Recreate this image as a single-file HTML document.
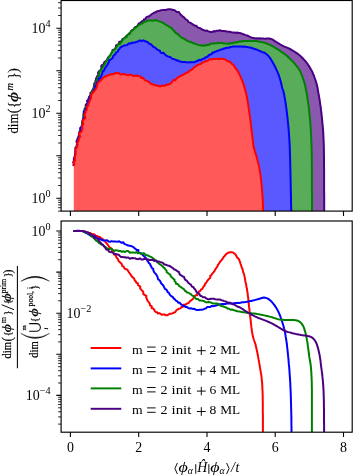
<!DOCTYPE html>
<html><head><meta charset="utf-8"><title>chart</title>
<style>html,body{margin:0;padding:0;background:#fff}svg{display:block}text{font-family:"Liberation Serif",serif;fill:#000;stroke:none}.b text{stroke:#000;stroke-width:0.18px}</style></head><body>
<svg width="353" height="476" viewBox="0 0 353 476">
<rect width="353" height="476" fill="#fff"/>
<defs><clipPath id="c1"><rect x="61.1" y="0.5" width="291.1" height="210.6"/></clipPath><clipPath id="c2"><rect x="61.1" y="221.0" width="291.1" height="211.2"/></clipPath></defs>
<g clip-path="url(#c1)" stroke-linejoin="round">
<polygon points="76.0,211.0 76.0,170.0 73.5,166.0 73.5,165.1 73.9,163.8 73.8,162.3 73.9,160.6 73.8,158.9 74.3,157.5 75.0,156.3 74.9,154.6 75.4,153.3 75.3,152.0 75.7,150.5 75.8,149.3 75.3,147.7 76.6,146.5 76.8,145.0 77.1,143.5 76.5,141.8 76.8,140.4 77.5,139.0 78.0,137.6 78.7,136.2 78.9,134.8 79.4,133.6 79.3,132.0 80.1,130.7 80.5,129.4 80.4,128.1 81.7,127.2 81.7,125.5 82.4,124.3 82.0,122.4 82.3,121.2 82.7,119.8 83.0,118.3 83.6,116.9 83.7,115.4 83.6,114.1 83.6,112.8 84.0,111.6 85.0,110.5 84.5,108.9 85.3,107.8 85.8,106.5 85.6,104.9 86.7,103.8 87.7,102.7 86.9,100.9 88.1,99.7 88.7,98.4 89.0,97.0 90.1,95.8 90.5,94.2 90.4,92.8 91.8,91.8 92.3,90.4 93.0,89.1 93.7,87.8 93.9,86.3 94.2,85.0 94.2,83.5 95.4,82.4 95.4,81.0 95.9,79.8 96.0,78.5 96.6,77.4 97.3,76.0 98.6,74.8 97.9,72.9 98.7,71.6 100.0,70.4 101.0,69.5 101.4,68.2 101.2,66.4 101.7,65.1 103.5,64.6 103.8,63.1 104.5,61.9 106.0,61.2 106.9,60.0 107.5,58.6 108.3,57.4 109.2,56.3 110.4,55.4 110.9,54.0 111.7,52.8 112.5,51.6 112.6,50.0 114.4,49.5 115.2,48.3 115.9,47.1 116.1,45.4 117.5,44.6 118.9,43.9 119.2,42.0 120.6,41.5 122.0,40.8 122.4,39.1 124.3,38.9 125.1,37.6 126.0,36.4 127.2,35.5 128.3,34.6 129.2,33.4 130.5,32.6 131.0,31.1 132.1,30.2 133.5,29.5 134.2,28.3 135.0,27.1 136.4,26.7 137.6,25.9 138.1,24.5 138.9,23.4 140.2,22.8 141.2,22.0 142.1,21.1 143.5,20.7 144.0,19.2 145.5,19.0 146.0,17.5 147.1,16.8 148.4,16.5 149.7,15.8 150.8,14.9 151.9,14.0 153.1,13.3 154.2,12.6 155.5,12.2 156.8,11.4 158.2,11.0 159.7,10.7 161.1,10.2 162.5,10.1 164.0,9.9 165.7,10.1 167.2,9.5 168.7,9.3 170.0,9.3 171.6,9.5 172.8,10.0 174.2,10.1 175.5,10.9 176.7,12.1 178.9,12.1 179.7,13.3 180.6,14.5 181.7,15.6 182.9,16.7 184.3,17.6 185.2,18.8 186.4,19.7 187.7,20.5 188.4,22.1 190.0,22.6 191.3,23.3 192.4,24.2 193.6,24.9 194.8,25.7 196.3,25.7 197.2,26.9 198.2,27.8 199.9,28.0 201.2,28.9 202.6,29.7 204.0,30.2 205.3,30.8 207.0,30.6 208.3,31.4 209.6,31.7 211.0,32.0 212.5,32.1 213.9,31.0 215.5,31.5 216.6,30.7 218.3,30.8 220.0,30.3 221.2,30.7 222.5,31.1 224.1,31.0 225.6,31.3 227.1,31.6 228.5,31.7 229.9,31.8 231.3,32.3 232.8,32.4 234.2,32.4 235.6,33.0 237.0,32.5 238.4,33.0 239.8,33.0 241.2,33.4 242.6,34.0 244.2,34.5 245.6,35.1 247.1,35.5 248.4,36.0 249.8,37.0 251.1,37.4 252.6,37.9 253.9,38.0 255.3,38.4 256.9,38.3 258.3,38.4 259.7,38.2 261.1,38.4 262.4,38.4 263.7,38.6 265.0,38.7 266.5,38.6 268.0,38.6 269.5,38.6 271.0,38.9 272.2,39.4 273.4,40.1 274.5,40.9 275.7,41.7 276.9,42.4 278.1,43.1 279.3,43.8 280.4,44.5 281.6,45.2 282.8,45.8 284.0,46.4 285.2,46.9 286.4,47.3 287.6,47.8 288.8,48.4 290.0,49.0 291.2,49.6 292.3,50.3 293.5,51.0 294.7,51.8 295.9,52.6 297.1,53.4 298.3,54.3 299.5,55.3 300.7,56.3 301.7,57.2 302.7,58.2 303.7,59.3 304.7,60.4 305.7,61.5 306.6,62.7 307.4,63.7 308.1,64.8 308.9,65.9 309.6,67.0 310.3,68.2 310.9,69.4 311.6,70.6 312.2,71.7 312.7,72.9 313.2,74.2 313.8,75.4 314.3,76.7 314.7,78.0 315.2,79.3 315.6,80.5 316.0,81.8 316.4,83.1 316.7,84.3 317.0,85.5 317.3,86.8 317.6,88.3 317.9,90.0 318.1,91.1 318.3,92.3 318.5,93.5 318.8,94.8 319.0,96.2 319.2,97.6 319.5,99.0 319.7,100.4 319.9,101.8 320.1,103.2 320.3,104.6 320.5,105.9 320.7,107.2 320.9,108.5 321.0,109.9 321.2,111.2 321.3,112.5 321.5,113.8 321.6,115.1 321.8,116.4 321.9,117.7 322.0,119.1 322.2,120.4 322.3,121.7 322.4,123.0 322.5,124.3 322.7,125.5 322.8,126.8 322.9,128.0 323.0,129.2 323.1,130.5 323.2,131.8 323.3,133.2 323.3,134.6 323.4,136.0 323.5,137.6 323.5,138.7 323.6,139.8 323.6,140.8 323.7,141.8 323.7,142.8 323.7,143.9 323.8,144.9 323.8,146.0 323.8,147.2 323.9,148.4 323.9,149.7 323.9,151.1 323.9,152.6 323.9,154.3 324.0,156.0 324.0,157.9 324.0,160.0 324.0,161.0 324.0,162.0 324.0,163.1 324.0,164.3 324.0,165.5 324.0,166.8 324.1,168.1 324.1,169.5 324.1,170.9 324.1,172.3 324.1,173.8 324.1,175.3 324.1,176.8 324.1,178.3 324.1,179.9 324.1,181.4 324.1,183.0 324.1,184.5 324.1,186.1 324.1,187.7 324.1,189.2 324.1,190.8 324.1,192.3 324.2,193.8 324.2,195.3 324.2,196.7 324.2,198.1 324.2,199.5 324.2,200.8 324.2,202.1 324.2,203.4 324.2,204.5 324.2,205.7 324.2,206.7 324.2,207.7 324.2,208.7 324.2,209.5 324.2,210.3 324.2,211.0" fill="#8a59ae" stroke="none"/>
<polyline points="73.5,166.0 73.5,165.1 73.9,163.8 73.8,162.3 73.9,160.6 73.8,158.9 74.3,157.5 75.0,156.3 74.9,154.6 75.4,153.3 75.3,152.0 75.7,150.5 75.8,149.3 75.3,147.7 76.6,146.5 76.8,145.0 77.1,143.5 76.5,141.8 76.8,140.4 77.5,139.0 78.0,137.6 78.7,136.2 78.9,134.8 79.4,133.6 79.3,132.0 80.1,130.7 80.5,129.4 80.4,128.1 81.7,127.2 81.7,125.5 82.4,124.3 82.0,122.4 82.3,121.2 82.7,119.8 83.0,118.3 83.6,116.9 83.7,115.4 83.6,114.1 83.6,112.8 84.0,111.6 85.0,110.5 84.5,108.9 85.3,107.8 85.8,106.5 85.6,104.9 86.7,103.8 87.7,102.7 86.9,100.9 88.1,99.7 88.7,98.4 89.0,97.0 90.1,95.8 90.5,94.2 90.4,92.8 91.8,91.8 92.3,90.4 93.0,89.1 93.7,87.8 93.9,86.3 94.2,85.0 94.2,83.5 95.4,82.4 95.4,81.0 95.9,79.8 96.0,78.5 96.6,77.4 97.3,76.0 98.6,74.8 97.9,72.9 98.7,71.6 100.0,70.4 101.0,69.5 101.4,68.2 101.2,66.4 101.7,65.1 103.5,64.6 103.8,63.1 104.5,61.9 106.0,61.2 106.9,60.0 107.5,58.6 108.3,57.4 109.2,56.3 110.4,55.4 110.9,54.0 111.7,52.8 112.5,51.6 112.6,50.0 114.4,49.5 115.2,48.3 115.9,47.1 116.1,45.4 117.5,44.6 118.9,43.9 119.2,42.0 120.6,41.5 122.0,40.8 122.4,39.1 124.3,38.9 125.1,37.6 126.0,36.4 127.2,35.5 128.3,34.6 129.2,33.4 130.5,32.6 131.0,31.1 132.1,30.2 133.5,29.5 134.2,28.3 135.0,27.1 136.4,26.7 137.6,25.9 138.1,24.5 138.9,23.4 140.2,22.8 141.2,22.0 142.1,21.1 143.5,20.7 144.0,19.2 145.5,19.0 146.0,17.5 147.1,16.8 148.4,16.5 149.7,15.8 150.8,14.9 151.9,14.0 153.1,13.3 154.2,12.6 155.5,12.2 156.8,11.4 158.2,11.0 159.7,10.7 161.1,10.2 162.5,10.1 164.0,9.9 165.7,10.1 167.2,9.5 168.7,9.3 170.0,9.3 171.6,9.5 172.8,10.0 174.2,10.1 175.5,10.9 176.7,12.1 178.9,12.1 179.7,13.3 180.6,14.5 181.7,15.6 182.9,16.7 184.3,17.6 185.2,18.8 186.4,19.7 187.7,20.5 188.4,22.1 190.0,22.6 191.3,23.3 192.4,24.2 193.6,24.9 194.8,25.7 196.3,25.7 197.2,26.9 198.2,27.8 199.9,28.0 201.2,28.9 202.6,29.7 204.0,30.2 205.3,30.8 207.0,30.6 208.3,31.4 209.6,31.7 211.0,32.0 212.5,32.1 213.9,31.0 215.5,31.5 216.6,30.7 218.3,30.8 220.0,30.3 221.2,30.7 222.5,31.1 224.1,31.0 225.6,31.3 227.1,31.6 228.5,31.7 229.9,31.8 231.3,32.3 232.8,32.4 234.2,32.4 235.6,33.0 237.0,32.5 238.4,33.0 239.8,33.0 241.2,33.4 242.6,34.0 244.2,34.5 245.6,35.1 247.1,35.5 248.4,36.0 249.8,37.0 251.1,37.4 252.6,37.9 253.9,38.0 255.3,38.4 256.9,38.3 258.3,38.4 259.7,38.2 261.1,38.4 262.4,38.4 263.7,38.6 265.0,38.7 266.5,38.6 268.0,38.6 269.5,38.6 271.0,38.9 272.2,39.4 273.4,40.1 274.5,40.9 275.7,41.7 276.9,42.4 278.1,43.1 279.3,43.8 280.4,44.5 281.6,45.2 282.8,45.8 284.0,46.4 285.2,46.9 286.4,47.3 287.6,47.8 288.8,48.4 290.0,49.0 291.2,49.6 292.3,50.3 293.5,51.0 294.7,51.8 295.9,52.6 297.1,53.4 298.3,54.3 299.5,55.3 300.7,56.3 301.7,57.2 302.7,58.2 303.7,59.3 304.7,60.4 305.7,61.5 306.6,62.7 307.4,63.7 308.1,64.8 308.9,65.9 309.6,67.0 310.3,68.2 310.9,69.4 311.6,70.6 312.2,71.7 312.7,72.9 313.2,74.2 313.8,75.4 314.3,76.7 314.7,78.0 315.2,79.3 315.6,80.5 316.0,81.8 316.4,83.1 316.7,84.3 317.0,85.5 317.3,86.8 317.6,88.3 317.9,90.0 318.1,91.1 318.3,92.3 318.5,93.5 318.8,94.8 319.0,96.2 319.2,97.6 319.5,99.0 319.7,100.4 319.9,101.8 320.1,103.2 320.3,104.6 320.5,105.9 320.7,107.2 320.9,108.5 321.0,109.9 321.2,111.2 321.3,112.5 321.5,113.8 321.6,115.1 321.8,116.4 321.9,117.7 322.0,119.1 322.2,120.4 322.3,121.7 322.4,123.0 322.5,124.3 322.7,125.5 322.8,126.8 322.9,128.0 323.0,129.2 323.1,130.5 323.2,131.8 323.3,133.2 323.3,134.6 323.4,136.0 323.5,137.6 323.5,138.7 323.6,139.8 323.6,140.8 323.7,141.8 323.7,142.8 323.7,143.9 323.8,144.9 323.8,146.0 323.8,147.2 323.9,148.4 323.9,149.7 323.9,151.1 323.9,152.6 323.9,154.3 324.0,156.0 324.0,157.9 324.0,160.0 324.0,161.0 324.0,162.0 324.0,163.1 324.0,164.3 324.0,165.5 324.0,166.8 324.1,168.1 324.1,169.5 324.1,170.9 324.1,172.3 324.1,173.8 324.1,175.3 324.1,176.8 324.1,178.3 324.1,179.9 324.1,181.4 324.1,183.0 324.1,184.5 324.1,186.1 324.1,187.7 324.1,189.2 324.1,190.8 324.1,192.3 324.2,193.8 324.2,195.3 324.2,196.7 324.2,198.1 324.2,199.5 324.2,200.8 324.2,202.1 324.2,203.4 324.2,204.5 324.2,205.7 324.2,206.7 324.2,207.7 324.2,208.7 324.2,209.5 324.2,210.3 324.2,211.0" fill="none" stroke="#4b0082" stroke-width="2"/>
<polygon points="76.0,211.0 76.0,170.0 74.2,166.0 73.9,165.0 74.5,163.8 73.7,162.2 74.4,160.6 74.9,159.0 75.3,157.5 74.9,156.2 75.4,154.5 75.8,153.3 76.1,152.1 76.5,150.6 76.5,149.3 76.6,147.8 77.3,146.5 77.3,144.9 77.3,143.4 77.6,141.9 78.2,140.6 78.5,139.1 79.0,137.6 79.2,136.2 79.6,134.8 79.8,133.5 79.8,131.9 80.8,130.7 81.5,129.5 81.6,128.2 81.6,127.0 82.3,125.5 82.2,124.0 82.2,122.3 83.3,121.2 83.1,119.7 84.1,118.4 83.6,116.7 83.2,115.2 84.1,114.0 85.4,113.0 84.7,111.6 84.6,110.2 85.2,108.9 86.1,107.8 86.5,106.5 86.9,105.2 88.0,104.0 88.2,102.6 88.4,101.2 89.2,99.9 90.1,98.7 90.4,97.3 91.0,95.9 90.8,94.0 91.6,93.0 92.5,91.8 92.7,90.3 93.7,89.1 94.1,87.7 94.8,86.4 94.8,85.0 96.4,84.0 96.4,82.5 96.3,81.1 96.8,79.9 98.3,79.1 97.6,77.4 98.6,76.2 99.2,74.8 99.3,73.2 99.5,71.6 100.7,70.4 101.3,69.3 102.3,68.3 102.8,67.0 103.3,65.7 104.3,64.7 105.0,63.4 105.7,62.2 106.4,60.9 107.2,59.7 108.3,58.7 108.6,57.1 109.6,56.1 110.6,55.0 110.9,53.5 112.1,52.6 112.4,51.0 113.6,50.2 114.9,49.3 115.8,48.2 116.5,46.9 117.3,45.8 117.9,44.4 119.9,44.1 120.5,42.6 121.7,41.8 122.2,40.2 123.4,39.4 124.1,37.9 125.9,37.6 127.0,36.6 127.3,34.9 128.8,34.4 130.1,33.6 130.6,31.9 131.6,30.9 132.8,30.2 133.8,29.4 134.4,28.4 136.3,27.3 137.4,26.2 138.5,25.4 139.7,24.4 141.4,23.9 142.5,23.3 143.7,22.0 145.4,21.7 146.8,21.0 148.2,20.6 150.2,20.6 151.8,20.5 153.3,20.7 155.2,20.0 157.1,20.4 158.2,21.1 159.5,21.4 161.0,21.9 162.5,22.7 163.8,23.1 164.8,24.2 166.1,25.0 167.5,25.7 168.9,26.5 170.0,27.6 171.6,27.8 172.3,29.1 173.1,30.3 174.4,31.0 175.0,32.3 176.1,33.2 177.4,33.7 178.3,34.9 179.5,35.8 180.6,36.8 181.7,37.6 183.0,38.3 184.3,38.8 185.4,39.6 186.5,40.3 187.6,41.1 188.8,41.5 190.1,41.8 191.3,42.2 192.7,43.0 194.2,43.5 195.7,43.9 197.1,44.6 198.3,44.9 199.9,45.3 201.3,45.5 202.6,45.3 204.0,45.9 205.3,45.1 206.8,45.3 208.1,44.8 209.6,44.7 210.9,43.6 212.5,43.6 214.1,43.5 215.8,43.2 217.5,43.3 218.8,42.7 220.4,42.9 222.0,43.1 223.6,43.4 225.4,43.5 227.1,43.5 228.9,43.7 230.6,43.3 232.2,43.3 234.2,42.4 235.4,42.4 236.8,42.4 238.2,41.8 239.7,41.6 241.2,41.6 242.6,41.3 244.0,41.0 245.5,41.1 246.9,41.0 248.3,41.0 249.7,40.7 251.1,41.0 252.6,41.0 254.0,40.8 255.4,40.9 256.9,41.1 258.4,41.5 260.0,41.7 261.4,42.1 262.5,42.3 265.0,42.8 266.0,43.2 267.1,43.7 268.4,44.2 269.8,44.8 271.0,45.4 272.2,46.0 273.4,46.7 274.5,47.4 275.7,48.1 276.9,48.8 278.1,49.5 279.3,50.3 280.4,51.1 281.6,51.9 282.8,52.8 284.0,53.7 285.2,54.6 286.4,55.6 287.6,56.6 288.8,57.7 289.8,58.6 290.8,59.6 291.8,60.6 292.8,61.6 293.8,62.6 294.7,63.7 295.6,64.8 296.5,65.8 297.3,66.9 298.1,68.0 298.9,69.3 299.7,70.6 300.3,71.7 300.8,72.9 301.3,74.1 301.9,75.4 302.4,76.7 302.8,78.0 303.3,79.3 303.7,80.5 304.1,81.8 304.5,83.1 304.8,84.3 305.1,85.5 305.4,86.8 305.7,88.3 306.0,90.0 306.2,91.1 306.4,92.3 306.7,93.5 306.9,94.8 307.1,96.2 307.3,97.6 307.6,99.0 307.8,100.4 308.0,101.8 308.2,103.2 308.4,104.6 308.6,105.9 308.8,107.2 308.9,108.5 309.1,109.9 309.2,111.2 309.4,112.5 309.5,113.8 309.6,115.1 309.7,116.4 309.9,117.7 310.0,119.1 310.1,120.4 310.2,121.7 310.3,123.0 310.4,124.3 310.5,125.5 310.6,126.8 310.7,128.0 310.8,129.2 310.8,130.5 310.9,131.8 311.0,133.2 311.1,134.6 311.1,136.0 311.2,137.6 311.2,138.7 311.3,139.8 311.3,140.8 311.4,141.8 311.4,142.8 311.5,143.9 311.5,144.9 311.5,146.0 311.6,147.2 311.6,148.4 311.6,149.7 311.7,151.1 311.7,152.6 311.7,154.3 311.8,156.0 311.8,157.9 311.8,160.0 311.8,161.0 311.8,162.0 311.8,163.1 311.8,164.3 311.8,165.5 311.9,166.8 311.9,168.1 311.9,169.5 311.9,170.9 311.9,172.3 311.9,173.8 311.9,175.3 311.9,176.8 311.9,178.3 311.9,179.9 311.9,181.4 311.9,183.0 311.9,184.5 311.9,186.1 311.9,187.7 311.9,189.2 311.9,190.8 312.0,192.3 312.0,193.8 312.0,195.3 312.0,196.7 312.0,198.1 312.0,199.5 312.0,200.8 312.0,202.1 312.0,203.4 312.0,204.5 312.0,205.7 312.0,206.7 312.0,207.7 312.0,208.7 312.0,209.5 312.0,210.3 312.0,211.0" fill="#59ac59" stroke="none"/>
<polyline points="74.2,166.0 73.9,165.0 74.5,163.8 73.7,162.2 74.4,160.6 74.9,159.0 75.3,157.5 74.9,156.2 75.4,154.5 75.8,153.3 76.1,152.1 76.5,150.6 76.5,149.3 76.6,147.8 77.3,146.5 77.3,144.9 77.3,143.4 77.6,141.9 78.2,140.6 78.5,139.1 79.0,137.6 79.2,136.2 79.6,134.8 79.8,133.5 79.8,131.9 80.8,130.7 81.5,129.5 81.6,128.2 81.6,127.0 82.3,125.5 82.2,124.0 82.2,122.3 83.3,121.2 83.1,119.7 84.1,118.4 83.6,116.7 83.2,115.2 84.1,114.0 85.4,113.0 84.7,111.6 84.6,110.2 85.2,108.9 86.1,107.8 86.5,106.5 86.9,105.2 88.0,104.0 88.2,102.6 88.4,101.2 89.2,99.9 90.1,98.7 90.4,97.3 91.0,95.9 90.8,94.0 91.6,93.0 92.5,91.8 92.7,90.3 93.7,89.1 94.1,87.7 94.8,86.4 94.8,85.0 96.4,84.0 96.4,82.5 96.3,81.1 96.8,79.9 98.3,79.1 97.6,77.4 98.6,76.2 99.2,74.8 99.3,73.2 99.5,71.6 100.7,70.4 101.3,69.3 102.3,68.3 102.8,67.0 103.3,65.7 104.3,64.7 105.0,63.4 105.7,62.2 106.4,60.9 107.2,59.7 108.3,58.7 108.6,57.1 109.6,56.1 110.6,55.0 110.9,53.5 112.1,52.6 112.4,51.0 113.6,50.2 114.9,49.3 115.8,48.2 116.5,46.9 117.3,45.8 117.9,44.4 119.9,44.1 120.5,42.6 121.7,41.8 122.2,40.2 123.4,39.4 124.1,37.9 125.9,37.6 127.0,36.6 127.3,34.9 128.8,34.4 130.1,33.6 130.6,31.9 131.6,30.9 132.8,30.2 133.8,29.4 134.4,28.4 136.3,27.3 137.4,26.2 138.5,25.4 139.7,24.4 141.4,23.9 142.5,23.3 143.7,22.0 145.4,21.7 146.8,21.0 148.2,20.6 150.2,20.6 151.8,20.5 153.3,20.7 155.2,20.0 157.1,20.4 158.2,21.1 159.5,21.4 161.0,21.9 162.5,22.7 163.8,23.1 164.8,24.2 166.1,25.0 167.5,25.7 168.9,26.5 170.0,27.6 171.6,27.8 172.3,29.1 173.1,30.3 174.4,31.0 175.0,32.3 176.1,33.2 177.4,33.7 178.3,34.9 179.5,35.8 180.6,36.8 181.7,37.6 183.0,38.3 184.3,38.8 185.4,39.6 186.5,40.3 187.6,41.1 188.8,41.5 190.1,41.8 191.3,42.2 192.7,43.0 194.2,43.5 195.7,43.9 197.1,44.6 198.3,44.9 199.9,45.3 201.3,45.5 202.6,45.3 204.0,45.9 205.3,45.1 206.8,45.3 208.1,44.8 209.6,44.7 210.9,43.6 212.5,43.6 214.1,43.5 215.8,43.2 217.5,43.3 218.8,42.7 220.4,42.9 222.0,43.1 223.6,43.4 225.4,43.5 227.1,43.5 228.9,43.7 230.6,43.3 232.2,43.3 234.2,42.4 235.4,42.4 236.8,42.4 238.2,41.8 239.7,41.6 241.2,41.6 242.6,41.3 244.0,41.0 245.5,41.1 246.9,41.0 248.3,41.0 249.7,40.7 251.1,41.0 252.6,41.0 254.0,40.8 255.4,40.9 256.9,41.1 258.4,41.5 260.0,41.7 261.4,42.1 262.5,42.3 265.0,42.8 266.0,43.2 267.1,43.7 268.4,44.2 269.8,44.8 271.0,45.4 272.2,46.0 273.4,46.7 274.5,47.4 275.7,48.1 276.9,48.8 278.1,49.5 279.3,50.3 280.4,51.1 281.6,51.9 282.8,52.8 284.0,53.7 285.2,54.6 286.4,55.6 287.6,56.6 288.8,57.7 289.8,58.6 290.8,59.6 291.8,60.6 292.8,61.6 293.8,62.6 294.7,63.7 295.6,64.8 296.5,65.8 297.3,66.9 298.1,68.0 298.9,69.3 299.7,70.6 300.3,71.7 300.8,72.9 301.3,74.1 301.9,75.4 302.4,76.7 302.8,78.0 303.3,79.3 303.7,80.5 304.1,81.8 304.5,83.1 304.8,84.3 305.1,85.5 305.4,86.8 305.7,88.3 306.0,90.0 306.2,91.1 306.4,92.3 306.7,93.5 306.9,94.8 307.1,96.2 307.3,97.6 307.6,99.0 307.8,100.4 308.0,101.8 308.2,103.2 308.4,104.6 308.6,105.9 308.8,107.2 308.9,108.5 309.1,109.9 309.2,111.2 309.4,112.5 309.5,113.8 309.6,115.1 309.7,116.4 309.9,117.7 310.0,119.1 310.1,120.4 310.2,121.7 310.3,123.0 310.4,124.3 310.5,125.5 310.6,126.8 310.7,128.0 310.8,129.2 310.8,130.5 310.9,131.8 311.0,133.2 311.1,134.6 311.1,136.0 311.2,137.6 311.2,138.7 311.3,139.8 311.3,140.8 311.4,141.8 311.4,142.8 311.5,143.9 311.5,144.9 311.5,146.0 311.6,147.2 311.6,148.4 311.6,149.7 311.7,151.1 311.7,152.6 311.7,154.3 311.8,156.0 311.8,157.9 311.8,160.0 311.8,161.0 311.8,162.0 311.8,163.1 311.8,164.3 311.8,165.5 311.9,166.8 311.9,168.1 311.9,169.5 311.9,170.9 311.9,172.3 311.9,173.8 311.9,175.3 311.9,176.8 311.9,178.3 311.9,179.9 311.9,181.4 311.9,183.0 311.9,184.5 311.9,186.1 311.9,187.7 311.9,189.2 311.9,190.8 312.0,192.3 312.0,193.8 312.0,195.3 312.0,196.7 312.0,198.1 312.0,199.5 312.0,200.8 312.0,202.1 312.0,203.4 312.0,204.5 312.0,205.7 312.0,206.7 312.0,207.7 312.0,208.7 312.0,209.5 312.0,210.3 312.0,211.0" fill="none" stroke="#008000" stroke-width="2"/>
<polygon points="76.0,211.0 76.0,170.0 74.0,166.0 74.2,165.1 73.7,163.7 73.5,162.2 74.5,160.6 74.8,159.0 74.6,157.4 75.4,156.2 75.1,154.5 75.2,153.2 75.9,152.1 75.4,150.4 76.0,149.2 76.5,147.9 77.1,146.5 77.0,144.9 77.5,143.5 77.4,141.9 78.1,140.6 79.0,139.2 78.4,137.6 80.0,136.4 79.1,134.7 79.7,133.5 80.2,132.1 80.9,130.8 80.4,129.2 80.4,127.9 81.8,127.1 82.4,125.5 82.7,124.2 84.0,122.8 83.3,121.3 83.6,119.8 84.1,118.4 84.2,116.8 85.0,115.5 84.1,114.0 84.7,112.8 83.7,111.3 85.7,110.4 85.7,109.0 86.6,107.9 87.5,106.8 87.2,105.1 87.6,103.8 88.1,102.4 88.5,101.1 89.2,99.7 90.3,98.6 90.6,97.1 91.3,95.7 91.9,94.2 92.9,93.1 93.4,91.8 93.7,90.3 94.7,89.1 95.0,87.5 95.3,86.0 96.9,85.3 97.1,83.7 97.2,82.2 98.6,81.3 98.9,80.0 98.8,78.4 100.6,77.8 100.7,76.4 101.6,75.3 101.9,74.0 102.4,72.7 102.6,71.3 104.1,70.6 104.5,69.2 105.1,68.0 106.0,66.9 106.7,65.7 107.6,64.6 108.1,63.2 109.0,62.1 109.1,60.4 110.5,59.7 111.7,58.7 112.8,57.7 113.2,56.1 114.1,55.1 115.4,54.4 115.7,52.8 116.9,52.0 118.0,51.2 118.3,49.8 119.3,49.3 120.3,47.4 121.8,46.8 123.0,46.0 124.4,45.4 125.9,45.2 127.4,45.1 128.3,43.6 129.6,43.3 131.0,43.4 132.3,42.5 133.8,42.8 135.1,42.5 136.5,41.7 138.0,41.5 139.7,40.4 141.5,41.0 143.1,40.3 144.6,41.0 146.1,41.5 148.1,42.5 148.9,43.5 150.1,44.0 151.4,44.7 152.5,45.9 153.5,47.0 155.0,47.4 156.1,48.4 157.1,49.5 158.5,50.1 159.9,50.6 160.4,52.4 161.7,53.1 163.6,52.8 164.5,54.1 165.6,55.0 166.7,55.9 168.0,56.5 169.3,56.9 170.6,57.3 171.6,58.2 172.7,59.1 174.1,59.1 175.3,59.6 176.4,60.4 177.8,60.3 179.1,61.2 180.6,61.5 182.0,62.1 183.5,62.0 185.0,62.1 186.5,62.3 188.0,62.4 189.5,62.2 190.9,62.3 192.3,62.3 193.7,62.2 195.1,62.0 196.4,61.1 197.9,60.7 199.2,59.8 201.1,60.2 202.0,59.1 203.3,58.8 204.6,58.3 205.6,57.3 207.0,57.0 208.1,56.1 209.0,55.0 210.5,54.5 211.8,53.9 212.6,52.5 214.1,52.4 215.2,51.7 216.5,51.2 217.7,50.7 218.9,50.5 220.2,49.7 221.7,49.4 223.0,48.8 224.4,48.6 225.7,48.0 227.1,47.8 228.6,47.8 229.9,47.3 231.3,46.9 232.6,46.6 234.1,46.5 235.6,46.5 236.9,46.6 238.3,46.5 239.8,46.5 241.3,46.4 242.7,46.7 244.1,46.6 245.5,46.7 246.9,47.1 248.3,47.2 249.7,47.5 251.2,47.8 252.6,48.3 254.0,48.8 255.5,49.2 256.8,49.6 258.4,50.4 259.9,51.0 261.3,51.7 262.5,52.2 263.9,52.5 265.0,53.0 265.9,53.7 266.9,54.5 268.0,55.5 269.0,56.7 269.8,57.7 270.6,58.8 271.3,60.1 272.1,61.3 272.9,62.7 273.6,63.9 274.3,65.2 275.0,66.5 275.6,67.9 276.3,69.3 276.9,70.6 277.5,71.9 278.0,73.2 278.5,74.4 279.0,75.7 279.4,77.1 279.9,78.5 280.3,79.9 280.7,81.4 281.1,83.0 281.4,84.6 281.8,86.1 282.1,87.4 282.4,88.5 283.0,90.2 283.6,92.0 283.8,93.0 284.0,94.1 284.3,95.3 284.5,96.6 284.8,98.1 285.1,99.6 285.3,101.3 285.6,103.0 285.8,104.1 285.9,105.3 286.1,106.6 286.3,107.9 286.5,109.2 286.6,110.6 286.8,112.0 287.0,113.4 287.2,114.9 287.3,116.3 287.5,117.7 287.7,119.1 287.8,120.5 287.9,121.9 288.1,123.3 288.2,124.7 288.3,126.1 288.5,127.5 288.6,128.9 288.7,130.3 288.8,131.7 288.9,133.1 289.0,134.4 289.1,135.8 289.2,137.2 289.3,138.5 289.4,139.9 289.5,141.2 289.5,142.5 289.6,143.8 289.7,145.1 289.7,146.3 289.8,147.6 289.8,148.9 289.9,150.3 289.9,151.8 289.9,153.3 290.0,155.0 290.0,156.1 290.1,157.2 290.1,158.4 290.1,159.6 290.2,160.8 290.2,162.1 290.2,163.3 290.3,164.6 290.3,165.9 290.3,167.3 290.4,168.6 290.4,170.0 290.4,171.4 290.4,172.8 290.5,174.2 290.5,175.6 290.5,177.1 290.6,178.5 290.6,180.0 290.6,181.3 290.7,182.6 290.7,184.0 290.7,185.4 290.7,186.9 290.8,188.4 290.8,190.0 290.8,191.6 290.9,193.1 290.9,194.7 290.9,196.3 291.0,197.8 291.0,199.4 291.0,200.8 291.0,202.3 291.1,203.7 291.1,205.0 291.1,206.2 291.1,207.4 291.2,208.4 291.2,209.4 291.2,210.3 291.2,211.0" fill="#5959ff" stroke="none"/>
<polyline points="74.0,166.0 74.2,165.1 73.7,163.7 73.5,162.2 74.5,160.6 74.8,159.0 74.6,157.4 75.4,156.2 75.1,154.5 75.2,153.2 75.9,152.1 75.4,150.4 76.0,149.2 76.5,147.9 77.1,146.5 77.0,144.9 77.5,143.5 77.4,141.9 78.1,140.6 79.0,139.2 78.4,137.6 80.0,136.4 79.1,134.7 79.7,133.5 80.2,132.1 80.9,130.8 80.4,129.2 80.4,127.9 81.8,127.1 82.4,125.5 82.7,124.2 84.0,122.8 83.3,121.3 83.6,119.8 84.1,118.4 84.2,116.8 85.0,115.5 84.1,114.0 84.7,112.8 83.7,111.3 85.7,110.4 85.7,109.0 86.6,107.9 87.5,106.8 87.2,105.1 87.6,103.8 88.1,102.4 88.5,101.1 89.2,99.7 90.3,98.6 90.6,97.1 91.3,95.7 91.9,94.2 92.9,93.1 93.4,91.8 93.7,90.3 94.7,89.1 95.0,87.5 95.3,86.0 96.9,85.3 97.1,83.7 97.2,82.2 98.6,81.3 98.9,80.0 98.8,78.4 100.6,77.8 100.7,76.4 101.6,75.3 101.9,74.0 102.4,72.7 102.6,71.3 104.1,70.6 104.5,69.2 105.1,68.0 106.0,66.9 106.7,65.7 107.6,64.6 108.1,63.2 109.0,62.1 109.1,60.4 110.5,59.7 111.7,58.7 112.8,57.7 113.2,56.1 114.1,55.1 115.4,54.4 115.7,52.8 116.9,52.0 118.0,51.2 118.3,49.8 119.3,49.3 120.3,47.4 121.8,46.8 123.0,46.0 124.4,45.4 125.9,45.2 127.4,45.1 128.3,43.6 129.6,43.3 131.0,43.4 132.3,42.5 133.8,42.8 135.1,42.5 136.5,41.7 138.0,41.5 139.7,40.4 141.5,41.0 143.1,40.3 144.6,41.0 146.1,41.5 148.1,42.5 148.9,43.5 150.1,44.0 151.4,44.7 152.5,45.9 153.5,47.0 155.0,47.4 156.1,48.4 157.1,49.5 158.5,50.1 159.9,50.6 160.4,52.4 161.7,53.1 163.6,52.8 164.5,54.1 165.6,55.0 166.7,55.9 168.0,56.5 169.3,56.9 170.6,57.3 171.6,58.2 172.7,59.1 174.1,59.1 175.3,59.6 176.4,60.4 177.8,60.3 179.1,61.2 180.6,61.5 182.0,62.1 183.5,62.0 185.0,62.1 186.5,62.3 188.0,62.4 189.5,62.2 190.9,62.3 192.3,62.3 193.7,62.2 195.1,62.0 196.4,61.1 197.9,60.7 199.2,59.8 201.1,60.2 202.0,59.1 203.3,58.8 204.6,58.3 205.6,57.3 207.0,57.0 208.1,56.1 209.0,55.0 210.5,54.5 211.8,53.9 212.6,52.5 214.1,52.4 215.2,51.7 216.5,51.2 217.7,50.7 218.9,50.5 220.2,49.7 221.7,49.4 223.0,48.8 224.4,48.6 225.7,48.0 227.1,47.8 228.6,47.8 229.9,47.3 231.3,46.9 232.6,46.6 234.1,46.5 235.6,46.5 236.9,46.6 238.3,46.5 239.8,46.5 241.3,46.4 242.7,46.7 244.1,46.6 245.5,46.7 246.9,47.1 248.3,47.2 249.7,47.5 251.2,47.8 252.6,48.3 254.0,48.8 255.5,49.2 256.8,49.6 258.4,50.4 259.9,51.0 261.3,51.7 262.5,52.2 263.9,52.5 265.0,53.0 265.9,53.7 266.9,54.5 268.0,55.5 269.0,56.7 269.8,57.7 270.6,58.8 271.3,60.1 272.1,61.3 272.9,62.7 273.6,63.9 274.3,65.2 275.0,66.5 275.6,67.9 276.3,69.3 276.9,70.6 277.5,71.9 278.0,73.2 278.5,74.4 279.0,75.7 279.4,77.1 279.9,78.5 280.3,79.9 280.7,81.4 281.1,83.0 281.4,84.6 281.8,86.1 282.1,87.4 282.4,88.5 283.0,90.2 283.6,92.0 283.8,93.0 284.0,94.1 284.3,95.3 284.5,96.6 284.8,98.1 285.1,99.6 285.3,101.3 285.6,103.0 285.8,104.1 285.9,105.3 286.1,106.6 286.3,107.9 286.5,109.2 286.6,110.6 286.8,112.0 287.0,113.4 287.2,114.9 287.3,116.3 287.5,117.7 287.7,119.1 287.8,120.5 287.9,121.9 288.1,123.3 288.2,124.7 288.3,126.1 288.5,127.5 288.6,128.9 288.7,130.3 288.8,131.7 288.9,133.1 289.0,134.4 289.1,135.8 289.2,137.2 289.3,138.5 289.4,139.9 289.5,141.2 289.5,142.5 289.6,143.8 289.7,145.1 289.7,146.3 289.8,147.6 289.8,148.9 289.9,150.3 289.9,151.8 289.9,153.3 290.0,155.0 290.0,156.1 290.1,157.2 290.1,158.4 290.1,159.6 290.2,160.8 290.2,162.1 290.2,163.3 290.3,164.6 290.3,165.9 290.3,167.3 290.4,168.6 290.4,170.0 290.4,171.4 290.4,172.8 290.5,174.2 290.5,175.6 290.5,177.1 290.6,178.5 290.6,180.0 290.6,181.3 290.7,182.6 290.7,184.0 290.7,185.4 290.7,186.9 290.8,188.4 290.8,190.0 290.8,191.6 290.9,193.1 290.9,194.7 290.9,196.3 291.0,197.8 291.0,199.4 291.0,200.8 291.0,202.3 291.1,203.7 291.1,205.0 291.1,206.2 291.1,207.4 291.2,208.4 291.2,209.4 291.2,210.3 291.2,211.0" fill="none" stroke="#0000ff" stroke-width="2"/>
<polygon points="73.8,211.0 73.8,166.0 73.9,166.0 73.9,165.1 74.4,163.8 73.2,162.1 75.0,160.7 74.9,159.0 74.9,157.5 74.8,156.2 75.7,154.6 75.3,153.2 75.9,152.0 75.8,150.5 75.2,149.0 76.6,147.9 77.0,146.4 77.6,145.0 77.1,143.4 77.9,142.0 78.5,140.6 78.7,139.1 79.5,137.7 80.3,136.4 79.2,134.6 79.1,133.2 80.9,132.1 81.8,130.8 82.0,129.5 82.4,128.1 82.1,126.6 82.3,125.3 83.4,124.1 82.9,122.4 82.7,121.0 83.3,119.7 85.3,118.5 85.3,117.0 84.4,115.3 84.7,113.9 85.5,112.6 85.4,111.0 86.9,109.9 86.7,108.3 86.7,106.7 88.4,105.7 88.1,103.9 89.1,102.7 89.6,101.2 90.1,99.7 91.0,98.5 91.1,96.9 91.3,95.2 91.8,93.7 92.9,92.7 93.7,91.6 94.8,90.5 95.5,89.3 96.3,88.2 96.7,87.1 97.1,85.3 97.8,84.0 97.9,82.5 99.7,81.3 101.0,80.2 102.0,79.1 103.0,78.0 104.4,76.8 106.4,76.2 107.5,75.2 109.0,75.0 110.6,74.5 111.8,74.0 113.3,74.3 114.6,73.3 116.2,73.3 117.5,73.1 118.8,73.1 120.2,74.3 121.5,74.5 123.0,73.8 124.3,74.2 125.6,74.7 127.1,74.8 128.4,75.3 130.1,74.5 131.3,74.9 132.6,75.5 133.9,76.1 135.4,75.7 136.8,75.5 137.9,76.0 139.3,76.2 140.6,76.6 141.3,78.1 142.9,77.8 143.9,78.7 144.6,80.2 146.0,80.6 147.4,81.2 148.7,81.7 149.7,82.7 150.7,83.8 152.1,84.0 153.2,84.8 154.6,84.9 155.7,85.4 157.3,85.5 158.7,86.0 160.2,86.5 161.7,85.5 163.2,85.8 164.7,85.7 166.1,85.0 167.7,84.5 169.0,84.2 170.5,83.8 171.4,82.5 172.5,81.5 173.3,80.1 175.2,80.4 176.0,79.0 177.2,78.2 178.2,77.1 179.6,76.7 180.6,75.7 182.0,75.3 183.2,74.8 184.3,74.0 185.5,73.4 186.6,72.4 188.2,72.4 189.2,71.2 190.2,70.2 191.5,70.1 192.6,68.9 193.5,67.8 194.9,66.9 196.1,66.4 197.0,65.2 198.4,64.8 199.9,64.4 201.0,63.6 202.1,62.8 203.3,62.3 204.5,61.7 205.7,61.2 207.0,61.0 208.4,60.3 209.7,59.2 211.3,59.5 212.8,59.0 214.3,59.1 215.8,58.7 217.3,58.8 218.8,59.3 220.3,58.7 221.8,58.8 223.3,59.1 224.9,59.3 226.1,59.9 227.2,60.9 228.5,61.3 229.8,61.8 230.8,62.6 231.8,63.8 232.9,64.5 233.8,65.6 234.7,66.8 235.4,67.9 236.1,69.0 237.0,70.1 237.8,71.3 238.6,72.7 239.1,73.8 239.7,75.0 240.4,76.2 240.9,77.6 241.5,78.9 242.1,80.2 242.6,81.6 243.0,82.8 243.4,84.1 243.9,85.3 244.2,86.6 244.6,87.9 245.0,89.2 245.3,90.4 245.6,91.6 246.0,93.0 246.3,94.2 246.5,95.4 246.8,96.7 247.1,98.2 247.4,100.0 247.6,101.1 247.8,102.2 248.0,103.4 248.2,104.7 248.4,106.1 248.6,107.5 248.8,108.9 249.0,110.3 249.2,111.8 249.4,113.2 249.6,114.6 249.8,115.9 250.0,117.2 250.2,118.6 250.3,119.9 250.5,121.2 250.7,122.6 250.8,123.9 251.0,125.3 251.2,126.6 251.3,127.9 251.5,129.2 251.6,130.5 251.8,131.7 252.0,133.2 252.2,134.8 252.3,136.3 252.5,137.9 252.7,139.4 252.8,140.8 253.0,142.2 253.1,143.5 253.3,144.6 253.4,145.6 253.8,147.6 254.1,148.6 254.5,150.0 254.8,151.1 255.2,152.3 255.6,153.6 256.1,155.0 256.5,156.4 256.9,157.9 257.2,159.2 257.6,160.6 257.9,162.0 258.3,163.4 258.6,164.9 258.9,166.4 259.2,167.8 259.5,169.2 259.7,170.6 260.0,172.0 260.2,173.4 260.4,174.8 260.6,176.3 260.8,177.8 261.0,179.0 261.1,180.3 261.2,181.6 261.4,183.0 261.5,184.3 261.6,185.7 261.8,187.0 261.9,188.4 262.0,189.7 262.1,191.0 262.2,192.4 262.3,193.8 262.4,195.1 262.5,196.5 262.6,197.8 262.7,199.1 262.7,200.4 262.8,201.6 262.9,203.2 263.0,204.7 263.0,206.3 263.1,207.8 263.1,209.1 263.2,210.2 263.2,211.0" fill="#ff5959" stroke="none"/>
<polyline points="73.9,166.0 73.9,165.1 74.4,163.8 73.2,162.1 75.0,160.7 74.9,159.0 74.9,157.5 74.8,156.2 75.7,154.6 75.3,153.2 75.9,152.0 75.8,150.5 75.2,149.0 76.6,147.9 77.0,146.4 77.6,145.0 77.1,143.4 77.9,142.0 78.5,140.6 78.7,139.1 79.5,137.7 80.3,136.4 79.2,134.6 79.1,133.2 80.9,132.1 81.8,130.8 82.0,129.5 82.4,128.1 82.1,126.6 82.3,125.3 83.4,124.1 82.9,122.4 82.7,121.0 83.3,119.7 85.3,118.5 85.3,117.0 84.4,115.3 84.7,113.9 85.5,112.6 85.4,111.0 86.9,109.9 86.7,108.3 86.7,106.7 88.4,105.7 88.1,103.9 89.1,102.7 89.6,101.2 90.1,99.7 91.0,98.5 91.1,96.9 91.3,95.2 91.8,93.7 92.9,92.7 93.7,91.6 94.8,90.5 95.5,89.3 96.3,88.2 96.7,87.1 97.1,85.3 97.8,84.0 97.9,82.5 99.7,81.3 101.0,80.2 102.0,79.1 103.0,78.0 104.4,76.8 106.4,76.2 107.5,75.2 109.0,75.0 110.6,74.5 111.8,74.0 113.3,74.3 114.6,73.3 116.2,73.3 117.5,73.1 118.8,73.1 120.2,74.3 121.5,74.5 123.0,73.8 124.3,74.2 125.6,74.7 127.1,74.8 128.4,75.3 130.1,74.5 131.3,74.9 132.6,75.5 133.9,76.1 135.4,75.7 136.8,75.5 137.9,76.0 139.3,76.2 140.6,76.6 141.3,78.1 142.9,77.8 143.9,78.7 144.6,80.2 146.0,80.6 147.4,81.2 148.7,81.7 149.7,82.7 150.7,83.8 152.1,84.0 153.2,84.8 154.6,84.9 155.7,85.4 157.3,85.5 158.7,86.0 160.2,86.5 161.7,85.5 163.2,85.8 164.7,85.7 166.1,85.0 167.7,84.5 169.0,84.2 170.5,83.8 171.4,82.5 172.5,81.5 173.3,80.1 175.2,80.4 176.0,79.0 177.2,78.2 178.2,77.1 179.6,76.7 180.6,75.7 182.0,75.3 183.2,74.8 184.3,74.0 185.5,73.4 186.6,72.4 188.2,72.4 189.2,71.2 190.2,70.2 191.5,70.1 192.6,68.9 193.5,67.8 194.9,66.9 196.1,66.4 197.0,65.2 198.4,64.8 199.9,64.4 201.0,63.6 202.1,62.8 203.3,62.3 204.5,61.7 205.7,61.2 207.0,61.0 208.4,60.3 209.7,59.2 211.3,59.5 212.8,59.0 214.3,59.1 215.8,58.7 217.3,58.8 218.8,59.3 220.3,58.7 221.8,58.8 223.3,59.1 224.9,59.3 226.1,59.9 227.2,60.9 228.5,61.3 229.8,61.8 230.8,62.6 231.8,63.8 232.9,64.5 233.8,65.6 234.7,66.8 235.4,67.9 236.1,69.0 237.0,70.1 237.8,71.3 238.6,72.7 239.1,73.8 239.7,75.0 240.4,76.2 240.9,77.6 241.5,78.9 242.1,80.2 242.6,81.6 243.0,82.8 243.4,84.1 243.9,85.3 244.2,86.6 244.6,87.9 245.0,89.2 245.3,90.4 245.6,91.6 246.0,93.0 246.3,94.2 246.5,95.4 246.8,96.7 247.1,98.2 247.4,100.0 247.6,101.1 247.8,102.2 248.0,103.4 248.2,104.7 248.4,106.1 248.6,107.5 248.8,108.9 249.0,110.3 249.2,111.8 249.4,113.2 249.6,114.6 249.8,115.9 250.0,117.2 250.2,118.6 250.3,119.9 250.5,121.2 250.7,122.6 250.8,123.9 251.0,125.3 251.2,126.6 251.3,127.9 251.5,129.2 251.6,130.5 251.8,131.7 252.0,133.2 252.2,134.8 252.3,136.3 252.5,137.9 252.7,139.4 252.8,140.8 253.0,142.2 253.1,143.5 253.3,144.6 253.4,145.6 253.8,147.6 254.1,148.6 254.5,150.0 254.8,151.1 255.2,152.3 255.6,153.6 256.1,155.0 256.5,156.4 256.9,157.9 257.2,159.2 257.6,160.6 257.9,162.0 258.3,163.4 258.6,164.9 258.9,166.4 259.2,167.8 259.5,169.2 259.7,170.6 260.0,172.0 260.2,173.4 260.4,174.8 260.6,176.3 260.8,177.8 261.0,179.0 261.1,180.3 261.2,181.6 261.4,183.0 261.5,184.3 261.6,185.7 261.8,187.0 261.9,188.4 262.0,189.7 262.1,191.0 262.2,192.4 262.3,193.8 262.4,195.1 262.5,196.5 262.6,197.8 262.7,199.1 262.7,200.4 262.8,201.6 262.9,203.2 263.0,204.7 263.0,206.3 263.1,207.8 263.1,209.1 263.2,210.2 263.2,211.0" fill="none" stroke="#ff0000" stroke-width="2"/>
</g>
<g clip-path="url(#c2)" fill="none" stroke-width="2" stroke-linejoin="round">
<polyline points="73.3,231.0 74.3,231.0 75.6,230.9 77.2,230.9 78.8,230.9 80.5,230.9 81.9,231.0 83.4,231.2 84.8,231.6 86.2,231.9 87.5,232.4 88.7,233.0 90.5,233.1 91.6,234.5 93.5,234.1 95.0,234.8 95.8,236.2 97.4,236.0 98.5,237.0 100.0,236.9 100.7,238.2 102.5,238.7 103.3,240.2 105.2,240.7 105.5,242.4 106.8,243.3 107.6,244.7 108.6,246.0 109.3,247.2 110.7,248.0 112.0,248.9 111.8,250.8 113.0,251.8 113.6,253.1 114.0,254.5 115.8,255.1 116.1,256.7 116.8,257.8 118.0,259.1 118.4,260.8 119.6,261.9 120.8,263.0 121.8,264.1 122.1,265.8 123.6,266.6 124.3,268.2 125.4,269.1 127.1,269.4 128.0,270.7 128.8,272.1 129.9,273.5 130.6,274.6 131.4,275.7 132.1,276.9 133.5,277.8 134.3,279.1 134.8,280.6 136.0,281.5 136.3,282.9 137.9,283.3 137.9,284.9 139.0,285.8 140.3,286.5 140.1,288.3 141.0,289.3 141.9,290.4 142.9,291.3 143.4,292.6 143.3,294.2 144.8,295.0 146.4,295.8 146.1,297.5 146.9,298.7 147.2,300.1 147.9,301.1 149.0,302.4 149.8,303.7 150.1,305.5 151.8,306.1 151.6,308.1 153.2,308.5 154.1,309.3 154.7,311.1 155.8,312.0 157.1,312.3 157.7,313.5 159.3,313.1 160.5,313.8 161.6,314.8 163.0,314.6 164.4,314.4 165.7,315.2 167.1,315.3 168.4,314.7 169.5,313.8 171.0,313.8 172.4,313.4 173.7,312.7 175.3,312.1 176.2,310.5 177.5,309.5 178.9,308.8 180.5,308.4 181.4,307.0 183.1,306.8 183.6,304.8 185.6,304.8 186.4,303.7 187.7,303.4 188.9,302.7 189.8,301.2 190.9,300.7 191.9,299.8 193.0,298.9 193.7,297.6 194.7,296.5 195.5,295.2 197.3,295.2 197.6,293.7 198.4,292.7 199.0,291.4 200.4,290.9 200.9,289.6 202.2,288.9 202.9,287.7 203.6,286.4 204.6,285.5 205.0,284.0 206.0,283.0 206.8,281.8 207.5,280.5 208.5,279.6 209.3,278.5 210.4,277.7 210.1,275.8 211.4,275.1 212.1,273.9 213.0,272.9 213.9,271.9 214.6,270.7 215.3,269.5 216.0,268.3 216.9,267.2 217.6,266.1 217.9,264.7 219.0,263.8 219.4,262.6 220.4,261.3 221.5,260.2 222.4,259.0 223.2,257.9 223.8,256.7 224.7,255.9 225.9,254.3 227.2,253.4 228.4,252.7 229.9,252.3 231.3,252.3 233.1,252.5 234.7,253.7 235.5,254.5 236.2,255.7 236.8,256.9 237.7,258.1 238.8,259.1 239.4,260.5 240.1,262.0 240.5,263.8 241.0,264.9 241.4,266.2 241.7,267.5 242.4,268.8 242.8,270.1 242.9,271.5 243.5,272.8 243.9,274.0 244.3,275.2 244.5,276.5 244.9,277.7 244.9,279.0 245.2,280.3 245.4,281.7 245.8,283.0 246.1,284.2 246.3,285.6 246.4,287.0 246.9,288.3 247.0,289.7 247.3,291.2 247.5,292.6 247.7,293.9 247.8,295.2 247.9,296.5 248.2,297.8 248.3,299.2 248.4,300.6 248.6,302.0 248.7,303.5 248.9,305.0 249.0,306.2 249.1,307.4 249.3,308.7 249.5,310.0 249.6,311.4 249.8,312.7 249.9,314.1 250.1,315.4 250.2,316.7 250.4,318.1 250.6,319.3 250.7,320.6 250.8,322.1 251.0,323.5 251.2,325.0 251.3,326.4 251.5,327.8 251.7,329.2 251.8,330.5 252.0,331.9 252.3,333.2 252.5,334.5 252.8,335.9 253.2,337.2 253.5,338.5 253.9,339.8 254.3,341.0 254.8,342.3 255.2,343.5 255.6,344.8 255.9,346.2 256.2,347.5 256.5,348.8 256.8,350.2 257.1,351.5 257.4,352.9 257.6,354.3 257.9,355.7 258.1,357.0 258.4,358.3 258.6,359.5 258.9,361.0 259.1,362.4 259.4,363.8 259.6,365.1 259.8,366.4 260.0,367.6 260.2,368.8 260.4,370.0 260.7,371.6 260.9,373.0 261.2,374.4 261.4,375.9 261.6,377.7 261.7,378.9 261.8,380.2 261.9,381.5 262.1,382.9 262.2,384.4 262.3,385.9 262.3,387.4 262.4,389.0 262.5,390.5 262.6,391.7 262.6,392.9 262.6,394.0 262.7,395.1 262.7,396.3 262.7,397.5 262.7,398.7 262.7,400.1 262.8,401.6 262.8,403.2 262.8,405.0 262.8,406.1 262.8,407.3 262.8,408.6 262.8,410.0 262.8,411.5 262.8,413.0 262.9,414.6 262.9,416.2 262.9,417.8 262.9,419.4 262.9,421.0 262.9,422.5 262.9,424.0 262.9,425.5 262.9,426.9 262.9,428.1 262.9,429.3 262.9,430.3 262.9,431.2 262.9,432.0" stroke="#ff0000"/>
<polyline points="73.3,231.0 74.3,231.0 75.7,230.9 77.3,230.8 79.0,230.8 80.6,230.9 81.9,231.0 83.4,231.4 84.5,232.1 85.5,232.8 86.9,233.2 87.9,234.0 89.1,234.6 90.2,235.5 91.5,235.9 92.7,236.3 94.4,236.1 95.5,236.9 96.4,238.1 97.6,238.7 99.1,238.5 100.2,239.3 101.4,239.7 102.7,240.2 104.1,240.6 105.6,240.6 107.2,240.3 108.6,241.6 110.1,241.8 111.6,241.1 113.1,241.6 114.6,241.4 116.1,241.6 117.6,241.7 119.2,241.3 120.5,242.2 121.9,242.7 123.4,242.2 124.2,243.8 125.5,244.4 126.8,244.9 128.1,245.6 129.6,245.7 131.0,245.9 132.4,246.7 133.5,247.2 134.4,248.2 135.6,248.9 136.6,250.0 138.4,249.9 138.3,252.1 139.3,252.9 140.9,253.0 141.7,254.1 142.8,255.0 143.8,256.0 144.8,256.9 145.6,258.0 146.7,259.0 147.2,260.4 148.1,261.6 148.8,263.0 150.1,264.0 150.5,265.4 151.3,266.6 151.8,268.0 153.2,268.9 153.4,270.5 154.0,271.9 154.9,273.1 155.9,274.1 156.7,275.3 157.4,276.6 157.8,278.0 158.2,279.4 159.5,280.3 160.4,281.4 160.8,282.7 161.6,283.8 162.8,284.9 163.6,286.1 164.3,287.5 164.9,288.8 166.3,289.6 167.1,290.7 167.6,292.1 169.0,292.9 169.6,294.3 170.6,295.5 171.7,296.4 172.9,297.2 173.6,298.4 174.9,299.4 175.9,300.6 177.4,301.3 178.2,302.7 179.9,302.8 180.8,304.1 182.0,304.9 183.0,305.8 184.4,306.0 185.4,306.9 187.0,307.1 188.2,307.9 189.5,308.6 191.0,308.3 192.7,308.9 194.4,308.8 195.8,309.7 197.1,310.1 198.5,310.0 199.9,309.7 201.3,309.8 202.9,309.5 204.5,308.9 206.0,308.3 207.2,307.1 208.7,307.0 210.3,307.0 211.7,305.9 213.0,306.2 214.3,306.1 215.5,305.5 216.9,305.3 218.2,304.7 219.7,304.2 221.0,304.3 222.4,304.1 223.8,303.9 225.3,304.0 226.8,303.6 228.3,303.6 229.7,303.5 231.1,303.3 232.5,303.6 233.9,303.2 235.3,303.1 236.8,303.0 238.2,302.8 239.6,303.0 241.1,302.6 242.5,302.3 244.1,302.2 245.6,302.0 247.0,301.7 248.5,301.5 249.8,301.1 251.3,300.9 252.7,300.6 254.0,300.2 255.3,299.9 256.6,299.5 257.8,299.2 259.5,298.7 261.1,298.2 262.6,297.8 264.0,297.6 265.3,297.7 266.6,298.1 267.8,298.6 269.0,299.4 270.0,300.2 271.0,301.1 272.0,302.2 273.0,303.4 274.0,304.6 274.8,305.7 275.6,306.8 276.3,308.0 277.1,309.3 277.8,310.6 278.5,312.0 279.0,313.1 279.5,314.3 280.0,315.5 280.5,316.8 280.9,318.0 281.4,319.3 281.8,320.6 282.2,321.8 282.6,323.2 283.0,324.5 283.4,325.8 283.8,327.2 284.1,328.5 284.5,330.0 284.8,331.5 285.1,332.7 285.3,334.0 285.5,335.3 285.7,336.7 286.0,338.1 286.2,339.5 286.4,340.9 286.6,342.4 286.8,344.0 287.0,345.2 287.1,346.4 287.2,347.6 287.4,348.9 287.5,350.1 287.7,351.4 287.8,352.7 287.9,354.1 288.1,355.5 288.2,356.9 288.4,358.4 288.5,360.0 288.6,361.2 288.7,362.4 288.8,363.7 288.9,364.9 289.1,366.2 289.2,367.5 289.3,368.9 289.4,370.2 289.5,371.6 289.6,373.0 289.7,374.5 289.8,375.9 289.9,377.4 290.0,378.9 290.1,380.4 290.2,382.0 290.3,383.2 290.3,384.5 290.4,385.7 290.4,387.0 290.5,388.4 290.6,389.7 290.6,391.1 290.7,392.5 290.7,393.9 290.8,395.3 290.8,396.7 290.9,398.1 290.9,399.5 290.9,400.9 291.0,402.3 291.0,403.6 291.1,405.0 291.1,406.3 291.1,407.5 291.2,408.8 291.2,410.0 291.2,411.6 291.3,413.2 291.3,414.8 291.3,416.4 291.4,418.1 291.4,419.7 291.4,421.2 291.4,422.8 291.4,424.2 291.4,425.6 291.5,427.0 291.5,428.2 291.5,429.3 291.5,430.3 291.5,431.2 291.5,432.0" stroke="#0000ff"/>
<polyline points="73.3,231.0 74.3,231.0 75.7,230.9 77.3,230.9 79.0,230.9 80.6,230.9 81.9,231.0 83.4,231.3 84.6,231.8 85.7,232.3 86.7,233.0 88.3,233.4 89.7,234.0 91.1,234.8 91.4,236.5 93.0,237.2 94.1,238.3 95.0,239.4 96.2,240.7 97.8,241.5 98.8,242.9 100.2,243.7 101.5,244.5 103.0,245.2 104.0,246.5 105.4,247.1 106.6,248.1 107.9,248.7 109.2,249.2 110.9,248.5 111.9,249.7 113.2,249.9 114.5,251.0 116.0,250.1 117.5,250.6 119.0,250.9 120.5,251.0 122.0,251.8 123.7,251.3 125.1,252.0 126.6,251.0 128.2,251.1 129.9,252.7 131.0,252.5 132.3,252.6 133.7,252.5 135.1,252.7 136.6,252.1 137.8,253.2 139.3,252.8 140.5,253.7 142.0,253.7 143.6,253.2 144.8,253.9 145.7,255.2 147.2,255.2 148.5,255.7 149.5,256.4 150.7,256.8 151.9,257.4 153.0,258.3 154.2,259.1 155.1,260.3 156.6,260.7 157.3,262.2 158.3,263.0 159.3,263.9 160.5,264.7 161.7,265.5 162.7,266.5 163.7,267.6 164.8,268.4 165.4,269.6 166.5,270.5 166.7,272.2 167.8,273.0 169.0,273.9 170.2,274.6 170.6,276.0 171.5,277.0 172.5,277.9 173.4,278.9 174.5,279.6 174.6,281.2 175.6,282.0 176.0,283.7 177.6,284.0 178.6,284.9 179.3,286.2 180.6,286.8 181.6,287.6 182.9,288.5 184.1,289.3 184.9,290.8 186.2,291.5 187.2,292.5 188.9,292.9 190.0,293.8 191.4,294.5 192.3,295.8 193.8,296.0 194.5,297.3 195.5,298.3 196.5,299.1 198.0,299.1 199.2,300.4 200.9,300.4 202.5,300.8 204.0,301.0 205.3,302.0 206.8,302.4 208.3,302.0 209.8,302.2 211.3,302.6 212.7,303.5 214.3,303.4 215.8,303.4 217.4,303.6 218.8,304.4 220.1,305.4 221.5,306.2 222.9,306.3 224.2,306.8 225.4,307.4 226.7,307.6 227.6,308.7 229.2,308.8 230.5,309.7 232.1,309.5 233.7,310.1 234.8,310.6 236.1,310.8 237.4,311.3 238.8,311.5 240.2,311.6 241.6,312.1 243.0,312.3 244.4,312.2 245.7,312.6 247.2,312.7 248.7,312.8 250.2,312.9 251.6,313.2 253.0,313.4 254.5,313.6 255.9,313.8 257.4,314.1 258.9,314.3 260.4,314.6 261.7,314.9 263.0,315.1 264.3,315.4 265.7,315.7 267.0,316.0 268.2,316.3 269.4,316.6 270.6,316.9 272.0,317.3 273.3,317.7 274.6,318.1 275.8,318.5 277.0,318.9 278.2,319.2 279.7,319.5 281.3,319.7 282.8,319.8 284.4,319.9 285.9,320.0 287.5,320.1 289.1,320.0 290.6,320.0 292.1,320.0 293.5,320.1 295.4,320.3 297.1,320.5 298.6,321.1 299.7,321.8 300.7,322.6 301.6,323.6 302.5,324.8 303.1,325.9 303.7,327.2 304.2,328.6 304.7,330.1 305.2,331.8 305.5,332.9 305.8,334.0 306.0,335.2 306.3,336.4 306.5,337.6 306.8,339.0 307.0,340.4 307.3,342.0 307.5,343.1 307.7,344.4 307.8,345.7 308.0,347.0 308.2,348.4 308.4,349.9 308.6,351.3 308.8,352.7 308.9,354.0 309.1,355.3 309.2,356.4 309.4,357.5 309.7,359.3 309.9,360.6 310.2,361.8 310.4,363.0 310.6,364.3 310.8,366.0 310.9,367.1 311.0,368.2 311.1,369.3 311.2,370.5 311.3,371.8 311.4,373.1 311.4,374.5 311.5,375.9 311.6,377.3 311.6,378.8 311.7,380.3 311.7,381.4 311.8,382.6 311.8,383.7 311.8,384.8 311.8,386.0 311.8,387.2 311.9,388.4 311.9,389.7 311.9,391.0 311.9,392.3 311.9,393.7 311.9,395.2 311.9,396.7 311.9,398.3 311.9,400.0 311.9,401.1 311.9,402.3 311.9,403.6 311.9,405.0 311.9,406.4 311.9,407.9 311.9,409.4 311.9,410.9 311.9,412.5 311.9,414.1 311.9,415.7 311.9,417.2 311.9,418.8 311.9,420.3 311.9,421.8 311.9,423.2 311.9,424.6 311.9,426.0 311.9,427.2 311.9,428.4 311.9,429.4 311.9,430.4 311.9,431.3 311.9,432.0" stroke="#008000"/>
<polyline points="73.3,231.0 74.3,231.0 75.7,231.0 77.3,230.9 79.0,230.9 80.6,230.9 81.9,231.0 83.8,231.3 85.4,231.8 86.8,232.2 88.3,232.4 89.4,233.4 90.7,234.2 91.6,234.9 92.9,235.5 93.6,236.7 94.4,237.8 96.2,238.3 97.9,238.8 98.6,240.7 99.5,241.7 100.7,242.6 101.4,244.0 102.9,244.6 103.7,245.8 104.8,246.8 105.4,248.1 106.1,249.4 108.0,249.7 108.8,251.5 110.3,252.0 111.8,252.4 113.2,252.9 114.2,254.0 115.9,253.9 117.2,254.6 118.7,254.8 119.8,256.0 121.0,256.9 122.4,256.9 123.8,257.3 125.2,257.3 126.5,257.8 128.0,257.4 129.9,258.8 131.1,258.2 132.4,258.0 133.8,258.2 135.3,258.3 136.9,259.1 138.4,259.2 139.9,258.3 141.3,259.4 142.7,259.5 144.2,259.0 145.6,258.8 147.0,259.3 148.4,259.5 149.8,260.1 151.3,260.1 152.9,259.8 154.2,261.0 155.9,260.6 157.1,261.9 158.6,261.4 159.8,261.9 161.6,262.4 163.0,263.0 164.1,264.2 165.6,264.7 166.8,265.2 168.0,265.7 169.5,265.7 170.5,266.7 171.7,267.4 173.0,268.1 173.9,269.3 175.4,269.7 176.6,270.6 177.8,271.5 179.1,272.2 179.4,273.8 180.2,274.9 181.5,275.6 182.7,276.4 184.1,277.0 184.5,278.6 185.4,279.9 186.7,280.7 187.6,281.9 188.5,283.0 189.5,283.8 190.9,284.6 191.4,285.9 192.3,286.8 193.6,287.3 194.1,288.5 195.3,289.6 196.0,291.1 196.8,292.5 198.1,293.2 199.5,294.0 200.2,295.7 201.8,296.3 203.1,297.3 204.9,297.2 206.2,298.4 207.7,299.2 209.3,299.3 210.8,298.7 212.3,298.8 213.8,298.8 215.2,299.2 216.7,299.4 218.2,299.4 219.8,299.4 221.2,300.2 222.7,300.4 224.2,301.1 225.7,301.5 227.1,302.2 228.6,302.6 230.2,302.8 231.6,303.6 232.7,304.3 234.0,304.5 235.2,305.2 236.3,305.9 237.5,306.5 238.8,307.0 240.1,307.5 241.3,308.2 242.4,309.0 243.5,309.6 244.7,310.7 246.1,311.3 247.6,312.5 248.7,313.1 249.9,313.7 251.2,314.5 252.6,315.2 254.0,315.9 255.3,316.6 256.6,317.2 257.8,317.7 259.1,318.2 260.4,318.6 261.6,319.1 262.9,319.6 264.2,320.1 265.5,320.6 266.8,321.1 268.0,321.7 269.3,322.2 270.6,322.8 271.9,323.4 273.2,324.1 274.5,324.9 275.8,325.6 277.0,326.3 278.2,327.0 279.6,327.8 280.8,328.6 282.1,329.4 283.3,330.2 284.6,330.8 285.9,331.3 287.1,331.7 288.4,332.1 289.6,332.4 291.0,332.8 292.4,333.2 293.9,333.5 295.5,333.9 297.1,334.2 298.6,334.5 299.9,334.7 301.3,335.0 302.6,335.2 303.9,335.4 305.2,335.6 306.3,335.8 307.8,336.1 309.1,336.3 310.3,336.7 311.4,337.2 312.5,337.9 313.5,338.8 314.4,339.8 315.2,341.0 315.8,342.1 316.4,343.3 316.9,344.5 317.3,345.9 317.8,347.4 318.1,348.5 318.4,349.7 318.7,351.0 319.0,352.3 319.3,353.6 319.6,355.0 319.8,356.3 320.0,357.6 320.2,358.9 320.4,360.2 320.6,361.5 320.7,362.9 320.9,364.4 321.1,366.0 321.2,367.1 321.4,368.3 321.6,369.5 321.7,370.7 321.9,372.0 322.1,373.3 322.2,374.7 322.4,376.0 322.5,377.4 322.7,378.9 322.8,380.3 322.9,381.5 323.0,382.7 323.1,383.8 323.2,385.0 323.3,386.1 323.3,387.3 323.4,388.5 323.5,389.9 323.6,391.2 323.6,392.7 323.7,394.3 323.7,396.1 323.8,398.0 323.8,399.0 323.8,400.2 323.9,401.4 323.9,402.7 323.9,404.0 323.9,405.4 323.9,406.9 324.0,408.4 324.0,409.9 324.0,411.4 324.0,413.0 324.0,414.6 324.0,416.1 324.0,417.6 324.0,419.2 324.0,420.7 324.0,422.1 324.1,423.5 324.1,424.9 324.1,426.1 324.1,427.4 324.1,428.5 324.1,429.5 324.1,430.5 324.1,431.3 324.1,432.0" stroke="#4b0082"/>
</g>
<g fill="none" stroke="#000" stroke-width="1.15">
<rect x="61.1" y="0.5" width="291.1" height="210.6"/>
<rect x="61.1" y="221.0" width="291.1" height="211.2"/>
</g>
<path d="M70.4 211.1v4.8M70.4 432.2v4.8M138.7 211.1v4.8M138.7 432.2v4.8M207.0 211.1v4.8M207.0 432.2v4.8M275.2 211.1v4.8M275.2 432.2v4.8M343.5 211.1v4.8M343.5 432.2v4.8M61.1 198.3h-4.8M61.1 155.8h-4.8M61.1 113.3h-4.8M61.1 70.8h-4.8M61.1 28.3h-4.8M61.1 395.4h-4.8M61.1 354.3h-4.8M61.1 313.2h-4.8M61.1 272.1h-4.8M61.1 231.0h-4.8" stroke="#000" stroke-width="1.1" fill="none"/>
<path d="M61.1 211.1h-3.0M61.1 207.7h-3.0M61.1 204.9h-3.0M61.1 202.4h-3.0M61.1 200.2h-3.0M61.1 185.5h-3.0M61.1 178.0h-3.0M61.1 172.7h-3.0M61.1 168.6h-3.0M61.1 165.2h-3.0M61.1 162.4h-3.0M61.1 159.9h-3.0M61.1 157.7h-3.0M61.1 143.0h-3.0M61.1 135.5h-3.0M61.1 130.2h-3.0M61.1 126.1h-3.0M61.1 122.7h-3.0M61.1 119.9h-3.0M61.1 117.4h-3.0M61.1 115.2h-3.0M61.1 100.5h-3.0M61.1 93.0h-3.0M61.1 87.7h-3.0M61.1 83.6h-3.0M61.1 80.2h-3.0M61.1 77.4h-3.0M61.1 74.9h-3.0M61.1 72.7h-3.0M61.1 58.0h-3.0M61.1 50.5h-3.0M61.1 45.2h-3.0M61.1 41.1h-3.0M61.1 37.7h-3.0M61.1 34.9h-3.0M61.1 32.4h-3.0M61.1 30.2h-3.0M61.1 15.5h-3.0M61.1 8.0h-3.0M61.1 2.7h-3.0M61.1 424.1h-3.0M61.1 416.9h-3.0M61.1 411.8h-3.0M61.1 407.8h-3.0M61.1 404.5h-3.0M61.1 401.8h-3.0M61.1 399.4h-3.0M61.1 397.3h-3.0M61.1 383.0h-3.0M61.1 375.8h-3.0M61.1 370.7h-3.0M61.1 366.7h-3.0M61.1 363.4h-3.0M61.1 360.7h-3.0M61.1 358.3h-3.0M61.1 356.2h-3.0M61.1 341.9h-3.0M61.1 334.7h-3.0M61.1 329.6h-3.0M61.1 325.6h-3.0M61.1 322.3h-3.0M61.1 319.6h-3.0M61.1 317.2h-3.0M61.1 315.1h-3.0M61.1 300.8h-3.0M61.1 293.6h-3.0M61.1 288.5h-3.0M61.1 284.5h-3.0M61.1 281.2h-3.0M61.1 278.5h-3.0M61.1 276.1h-3.0M61.1 274.0h-3.0M61.1 259.7h-3.0M61.1 252.5h-3.0M61.1 247.4h-3.0M61.1 243.4h-3.0M61.1 240.1h-3.0M61.1 237.4h-3.0M61.1 235.0h-3.0M61.1 232.9h-3.0" stroke="#000" stroke-width="0.85" fill="none"/>
<g style="will-change:transform">
<text x="50.5" y="32.9" text-anchor="end" font-size="13.9">10<tspan dy="-5.6" font-size="10.2">4</tspan></text>
<text x="50.5" y="117.9" text-anchor="end" font-size="13.9">10<tspan dy="-5.6" font-size="10.2">2</tspan></text>
<text x="50.5" y="202.9" text-anchor="end" font-size="13.9">10<tspan dy="-5.6" font-size="10.2">0</tspan></text>
<text x="50.5" y="235.6" text-anchor="end" font-size="13.9">10<tspan dy="-5.6" font-size="10.2">0</tspan></text>
<text x="50.5" y="400.0" text-anchor="end" font-size="13.9">10<tspan dy="-5.6" font-size="10.2">−4</tspan></text>
<text x="66.6" y="317.8" font-size="13.9">10<tspan dy="-5.6" font-size="10.2">−2</tspan></text>
<text x="70.4" y="451.6" text-anchor="middle" font-size="13.9">0</text>
<text x="138.7" y="451.6" text-anchor="middle" font-size="13.9">2</text>
<text x="207.0" y="451.6" text-anchor="middle" font-size="13.9">4</text>
<text x="275.2" y="451.6" text-anchor="middle" font-size="13.9">6</text>
<text x="343.5" y="451.6" text-anchor="middle" font-size="13.9">8</text>
<path d="M177.4 463.0L174.9 468.5L177.4 474.0" stroke="#000" stroke-width="0.95" fill="none"/>
<text transform="translate(178.6,472.2) scale(1.3,1)" font-size="13.9" font-style="italic">ϕ</text>
<text x="187.7" y="474.2" font-size="9.7" font-style="italic">α</text>
<path d="M195.75 464.2V473.8" stroke="#000" stroke-width="0.95" fill="none"/>
<text x="197.2" y="472.2" font-size="13.9" font-style="italic">Ĥ</text>
<path d="M208.85 464.2V473.8" stroke="#000" stroke-width="0.95" fill="none"/>
<text transform="translate(210.2,472.2) scale(1.3,1)" font-size="13.9" font-style="italic">ϕ</text>
<text x="219.4" y="474.2" font-size="9.7" font-style="italic">α</text>
<path d="M226.6 463.0L229.1 468.5L226.6 474.0" stroke="#000" stroke-width="0.95" fill="none"/>
<text x="231.0" y="472.2" font-size="13.9" font-style="italic">/</text>
<text x="235.6" y="472.2" font-size="13.9" font-style="italic">t</text>
<g transform="translate(0,133.6) rotate(-90)" class="b">
<text transform="translate(0.0,18.1) scale(0.945,1)" font-size="13.6">dim</text>
<text x="20.3" y="18.1" font-size="13.6">(</text>
<text x="25.6" y="18.1" font-size="13.6">{</text>
<text transform="translate(31.6,18.1) scale(1.35,1)" font-size="14.4" font-style="italic">ϕ</text>
<text x="43.0" y="12.9" font-size="10.4" font-style="italic">m</text>
<text x="54.6" y="18.1" font-size="13.6">}</text>
<text x="60.8" y="18.1" font-size="13.6">)</text>
</g>
<g transform="translate(0,317) rotate(-90)" class="b">
<text transform="translate(-41.4,11.3) scale(0.885,1)" font-size="11.9">dim</text>
<text transform="translate(-24.6,11.9) scale(0.9,1)" font-size="14.5">(</text>
<text x="-19.6" y="11.3" font-size="11.2">{</text>
<text transform="translate(-15.2,11.3) scale(1.25,1)" font-size="12.6" font-style="italic">ϕ</text>
<text x="-5.9" y="6.3" font-size="7.6">m</text>
<text x="1.4" y="11.3" font-size="11.2">}</text>
<path d="M7.3 14.0L12.3 1.6" stroke="#000" stroke-width="0.95" fill="none"/>
<text x="12.6" y="11.3" font-size="11.2">{</text>
<text transform="translate(15.4,11.3) scale(1.25,1)" font-size="12.6" font-style="italic">ϕ</text>
<text x="23.8" y="6.3" font-size="7.6">prim</text>
<text x="39.6" y="11.3" font-size="11.2">}</text>
<text transform="translate(43.6,11.9) scale(0.9,1)" font-size="13.5">)</text>
<line x1="-51.3" x2="51" y1="17.4" y2="17.4" stroke="#000" stroke-width="1.05"/>
<text transform="translate(-40.7,38.0) scale(0.885,1)" font-size="11.9">dim</text>
<path d="M-16.4 20.8Q-26.4 35.2 -16.4 49.6Q-24.2 35.2 -16.4 20.8Z" fill="#000" stroke="#000" stroke-width="0.35" stroke-linejoin="round"/>
<path d="M-14.3 29.2V36.5A3.85 3.85 0 0 0 -6.6 36.5V29.2" fill="none" stroke="#000" stroke-width="1.05"/>
<text x="-13.6" y="26.4" font-size="6.6">m</text>
<text x="-12.6" y="48.4" font-size="6.6" font-style="italic">i</text>
<text x="-5.5" y="38.0" font-size="11.2">{</text>
<text transform="translate(0.6,38.0) scale(1.25,1)" font-size="12.6" font-style="italic">ϕ</text>
<text x="10.6" y="32.6" font-size="7.6">pool, i</text>
<text x="27.0" y="38.0" font-size="11.2">}</text>
<path d="M35.7 20.8Q45.7 35.2 35.7 49.6Q43.5 35.2 35.7 20.8Z" fill="#000" stroke="#000" stroke-width="0.35" stroke-linejoin="round"/>
</g>
<line x1="90.7" x2="121.3" y1="348.0" y2="348.0" stroke="#ff0000" stroke-width="1.95"/>
<text transform="translate(132.0,353.5) scale(1.03,1)" font-size="13.3">m</text>
<path d="M147.1 347.1h8.5M147.1 351.5h8.5" stroke="#000" stroke-width="0.95" fill="none"/>
<text transform="translate(160.6,353.5) scale(1.06,1)" font-size="13.3">2</text>
<text transform="translate(171.5,353.5) scale(1.12,1)" font-size="13.3">init</text>
<path d="M196.9 350.7h8.8M201.3 346.4v8.6" stroke="#000" stroke-width="0.95" fill="none"/>
<text transform="translate(209.6,353.5) scale(1.02,1)" font-size="13.3">2</text>
<text x="220.3" y="353.5" font-size="13.3">ML</text>
<line x1="90.7" x2="121.3" y1="368.4" y2="368.4" stroke="#0000ff" stroke-width="1.95"/>
<text transform="translate(132.0,373.9) scale(1.03,1)" font-size="13.3">m</text>
<path d="M147.1 367.5h8.5M147.1 371.9h8.5" stroke="#000" stroke-width="0.95" fill="none"/>
<text transform="translate(160.6,373.9) scale(1.06,1)" font-size="13.3">2</text>
<text transform="translate(171.5,373.9) scale(1.12,1)" font-size="13.3">init</text>
<path d="M196.9 371.1h8.8M201.3 366.8v8.6" stroke="#000" stroke-width="0.95" fill="none"/>
<text transform="translate(209.6,373.9) scale(1.02,1)" font-size="13.3">4</text>
<text x="220.3" y="373.9" font-size="13.3">ML</text>
<line x1="90.7" x2="121.3" y1="388.4" y2="388.4" stroke="#008000" stroke-width="1.95"/>
<text transform="translate(132.0,393.9) scale(1.03,1)" font-size="13.3">m</text>
<path d="M147.1 387.5h8.5M147.1 391.9h8.5" stroke="#000" stroke-width="0.95" fill="none"/>
<text transform="translate(160.6,393.9) scale(1.06,1)" font-size="13.3">2</text>
<text transform="translate(171.5,393.9) scale(1.12,1)" font-size="13.3">init</text>
<path d="M196.9 391.1h8.8M201.3 386.8v8.6" stroke="#000" stroke-width="0.95" fill="none"/>
<text transform="translate(209.6,393.9) scale(1.02,1)" font-size="13.3">6</text>
<text x="220.3" y="393.9" font-size="13.3">ML</text>
<line x1="90.7" x2="121.3" y1="408.8" y2="408.8" stroke="#4b0082" stroke-width="1.95"/>
<text transform="translate(132.0,414.3) scale(1.03,1)" font-size="13.3">m</text>
<path d="M147.1 407.9h8.5M147.1 412.3h8.5" stroke="#000" stroke-width="0.95" fill="none"/>
<text transform="translate(160.6,414.3) scale(1.06,1)" font-size="13.3">2</text>
<text transform="translate(171.5,414.3) scale(1.12,1)" font-size="13.3">init</text>
<path d="M196.9 411.5h8.8M201.3 407.2v8.6" stroke="#000" stroke-width="0.95" fill="none"/>
<text transform="translate(209.6,414.3) scale(1.02,1)" font-size="13.3">8</text>
<text x="220.3" y="414.3" font-size="13.3">ML</text>
</g>
</svg></body></html>
